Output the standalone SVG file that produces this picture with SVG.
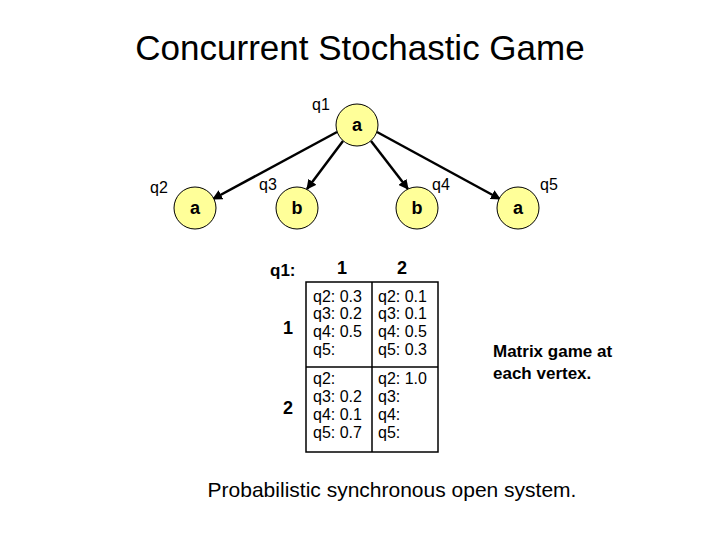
<svg xmlns="http://www.w3.org/2000/svg" width="720" height="540" viewBox="0 0 720 540">
<style>
text{font-family:"Liberation Sans",Arial,sans-serif;fill:#000}
.n{fill:#ffff99;stroke:#000;stroke-width:1}
.nl{font-weight:bold;font-size:18px;text-anchor:middle}
.lb{font-size:16px}
.c{stroke:#000;stroke-width:2.5;fill:none;marker-end:url(#ah)}
.t{font-size:16px}
.g{stroke:#000;stroke-width:1.5;fill:none}
</style>
<defs><marker id="ah" viewBox="0 0 10 10" refX="9" refY="5" markerWidth="4" markerHeight="4" orient="auto"><path d="M0,0L10,5L0,10z" fill="#000"/></marker></defs>
<rect width="720" height="540" fill="#fff"/>
<text x="360" y="60" font-size="35" text-anchor="middle">Concurrent Stochastic Game</text>
<g id="connectors">
<line class="c" x1="337" y1="132" x2="213" y2="199"/>
<line class="c" x1="343" y1="141" x2="307" y2="189"/>
<line class="c" x1="371" y1="141" x2="408" y2="189"/>
<line class="c" x1="377" y1="132" x2="500" y2="199"/>
</g>
<g id="q1"><circle class="n" cx="357" cy="125" r="21"/><text class="nl" x="357" y="131">a</text><text class="lb" x="312" y="110">q1</text></g>
<g id="q2"><circle class="n" cx="195" cy="208" r="21"/><text class="nl" x="195" y="214">a</text><text class="lb" x="150" y="193">q2</text></g>
<g id="q3"><circle class="n" cx="297" cy="208" r="21"/><text class="nl" x="297" y="214">b</text><text class="lb" x="259" y="190">q3</text></g>
<g id="q4"><circle class="n" cx="417" cy="208" r="21"/><text class="nl" x="417" y="214">b</text><text class="lb" x="432" y="190">q4</text></g>
<g id="q5"><circle class="n" cx="518" cy="208" r="21"/><text class="nl" x="518" y="214">a</text><text class="lb" x="540" y="190">q5</text></g>
<g id="matrix">
<rect class="g" x="306" y="282" width="132" height="170"/>
<line class="g" x1="372" y1="282" x2="372" y2="452"/>
<line class="g" x1="306" y1="367" x2="438" y2="367" stroke-width="2.5"/>
<text x="270" y="276" font-size="17" font-weight="bold">q1:</text>
<text x="342" y="274" font-size="18" font-weight="bold" text-anchor="middle">1</text>
<text x="402" y="274" font-size="18" font-weight="bold" text-anchor="middle">2</text>
<text x="288" y="334" font-size="18" font-weight="bold" text-anchor="middle">1</text>
<text x="288" y="414" font-size="18" font-weight="bold" text-anchor="middle">2</text>
<g class="t">
<text x="313" y="302">q2: 0.3</text><text x="313" y="319">q3: 0.2</text><text x="313" y="337">q4: 0.5</text><text x="313" y="355">q5:</text>
<text x="378" y="302">q2: 0.1</text><text x="378" y="319">q3: 0.1</text><text x="378" y="337">q4: 0.5</text><text x="378" y="355">q5: 0.3</text>
<text x="313" y="384">q2:</text><text x="313" y="402">q3: 0.2</text><text x="313" y="420">q4: 0.1</text><text x="313" y="438">q5: 0.7</text>
<text x="378" y="384">q2: 1.0</text><text x="378" y="402">q3:</text><text x="378" y="420">q4:</text><text x="378" y="438">q5:</text>
</g>
</g>
<text x="493" y="357" font-size="17" font-weight="bold">Matrix game at</text>
<text x="493" y="379" font-size="17" font-weight="bold">each vertex.</text>
<text x="392" y="497" font-size="21" text-anchor="middle">Probabilistic synchronous open system.</text>
</svg>
